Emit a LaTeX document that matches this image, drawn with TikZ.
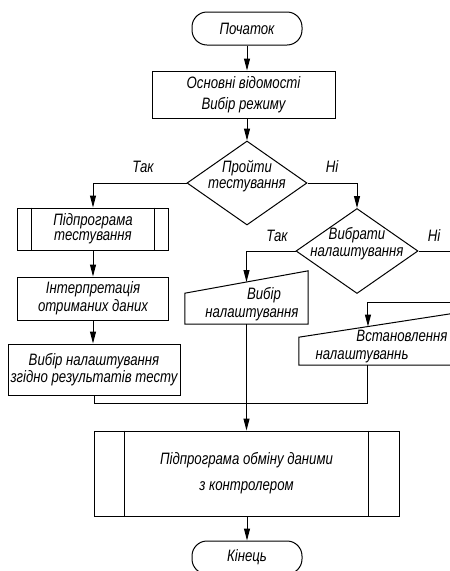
\documentclass[tikz,border=0pt]{standalone}
\usepackage{fontspec}
\newfontfamily\uaf[FakeStretch=0.8]{Liberation Sans}
\usetikzlibrary{arrows.meta,shapes.geometric,calc}
\begin{document}
\begin{tikzpicture}[x=1pt,y=-1pt,
 lw/.style={line width=1pt},
 base/.style={lw, draw, align=center, inner sep=0pt, font=\uaf\itshape\fontsize{16.5}{18}\selectfont},
 term/.style={base, rounded corners=15pt, minimum width=110pt, minimum height=33pt},
 proc/.style={base, rectangle},
 dia/.style={base, diamond},
 txt/.style={align=center, inner sep=0pt, font=\uaf\itshape\fontsize{16.5}{18}\selectfont},
 arr/.style={lw, -{Triangle[length=12pt,width=6pt]}},
]
\useasboundingbox (0,0) rectangle (450,571);
\node[term] (start) at (247,28.5) {Початок};
\node[proc, minimum width=183pt, minimum height=47pt, font=\uaf\itshape\fontsize{16.5}{21}\selectfont] (b1) at (243.5,94.5) {Основні відомості\\Вибір режиму};
\node[dia, minimum width=120pt, minimum height=84pt] (d1) at (247,183) {};
\node[txt, yshift=7pt, font=\uaf\itshape\fontsize{16.5}{16}\selectfont] (d1t) at (d1) {Пройти\\тестування};
\node[proc, minimum width=151pt, minimum height=42pt, font=\uaf\itshape\fontsize{16.5}{15}\selectfont] (s1) at (93,229) {Підпрограма\\тестування};
\node[proc, minimum width=151pt, minimum height=43pt] (b2) at (93,298.5) {Інтерпретація\\отриманих даних};
\node[proc, minimum width=172pt, minimum height=51pt, font=\uaf\itshape\fontsize{16.5}{17}\selectfont] (b3) at (94,369.5) {Вибір налаштування\\згідно результатів тесту};
\node[dia, minimum width=122pt, minimum height=85pt] (d2) at (357,251) {};
\node[txt, yshift=7pt, font=\uaf\itshape\fontsize{16.5}{17}\selectfont] (d2t) at (d2) {Вибрати\\налаштування};
\node[minimum width=123pt, minimum height=53pt, inner sep=0pt] (m1) at (246.5,297.5) {};
\draw[lw] (m1.south west) -- (m1.south east) -- (m1.north east) -- ($(m1.south west)+(0,-31)$) coordinate (m1tl) -- cycle;
\node[txt] (m1t) at (252,304) {\hspace*{24pt}Вибір\\налаштування};
\node[minimum width=161pt, minimum height=52.5pt, inner sep=0pt] (m2) at (379.5,338.75) {};
\draw[lw] (m2.south west) -- (m2.south east) -- (m2.north east) -- ($(m2.south west)+(0,-28)$) coordinate (m2tl) -- cycle;
\node[txt] (m2t) at (382,347) {\hspace*{40pt}Встановлення\\налаштуваннь\hspace*{40pt}};
\node[proc, minimum width=305pt, minimum height=85pt, font=\uaf\itshape\fontsize{16.5}{26}\selectfont] (s2) at (246.5,473.5) {Підпрограма обміну даними\\з контролером};
\node[term] (end) at (247,557.5) {Кінець};
% subroutine inner lines
\draw[lw] ([xshift=14pt]s1.north west) -- ([xshift=14pt]s1.south west);
\draw[lw] ([xshift=-15pt]s1.north east) -- ([xshift=-15pt]s1.south east);
\draw[lw] ([xshift=31pt]s2.north west) -- ([xshift=31pt]s2.south west);
\draw[lw] ([xshift=-31pt]s2.north east) -- ([xshift=-31pt]s2.south east);
% labels
\node[txt] (l1) at (143,167) {Так};
\node[txt] (l2) at (332,167) {Ні};
\node[txt] (l3) at (277,236) {Так};
\node[txt] (l4) at (434,236) {Ні};
% connectors
\draw[arr] (start.south) -- (start.south |- b1.north);
\draw[arr] (d1.north |- b1.south) -- (d1.north);
\draw[arr] (d1.west) -| (s1.north);
\draw[arr] (s1) -- (b2);
\draw[arr] (b2.south) -- (b2.south |- b3.north);
\draw[arr] (d1.east) -| (d2.north);
\coordinate (m1in) at ($(m1tl)!0.5!(m1.north east)$);
\draw[arr] (d2.west) -| (m1in);
\coordinate (r1) at (462,251);
\coordinate (r2) at (462,302);
\coordinate (m2in) at ($(m2tl)!0.4286!(m2.north east)$);
\draw[arr] (d2.east) -- (r1) -- (r2) -| (m2in);
\coordinate (jy) at (0,403);
\draw[lw] (m2in |- m2.south) -- (m2in |- jy) -| (b3.south);
\draw[arr] (m1.south) -- (s2.north);
\draw[arr] (s2.south -| end.north) -- (end.north);
\end{tikzpicture}
\end{document}
